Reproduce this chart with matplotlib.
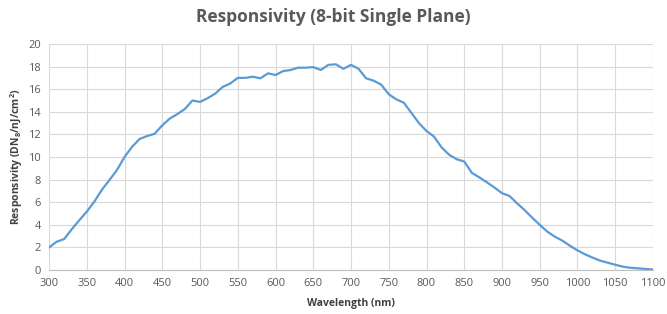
import numpy as np
import matplotlib.pyplot as plt

plt.rcParams['font.family'] = ['Open Sans', 'DejaVu Sans']
plt.rcParams['mathtext.fontset'] = 'custom'
plt.rcParams['mathtext.bf'] = 'Open Sans:bold'
plt.rcParams['mathtext.rm'] = 'Open Sans'

# wavelength (nm), every 10 nm
wavelength = np.arange(300, 1101, 10)
# responsivity
responsivity = [
    2.0, 2.5, 2.74, 3.6, 4.4, 5.16, 6.05, 7.1, 7.96, 8.85,
    10.0, 10.9, 11.6, 11.85, 12.06, 12.8, 13.4, 13.8, 14.25, 15.0,
    14.87, 15.2, 15.6, 16.2, 16.5, 17.0, 17.0, 17.1, 16.96, 17.4,
    17.25, 17.6, 17.7, 17.9, 17.9, 17.95, 17.7, 18.15, 18.2, 17.8,
    18.15, 17.8, 16.96, 16.75, 16.4, 15.55, 15.1, 14.8, 13.9, 13.0,
    12.3, 11.8, 10.85, 10.2, 9.8, 9.6, 8.6, 8.2, 7.76, 7.3,
    6.8, 6.55, 5.9, 5.3, 4.63, 4.0, 3.4, 2.95, 2.6, 2.15,
    1.74, 1.39, 1.1, 0.83, 0.65, 0.47, 0.3, 0.2, 0.15, 0.1,
    0.05,
]
x_ticks = np.arange(300, 1101, 50)
y_ticks = np.arange(0, 21, 2)

grey = '#595959'

fig = plt.figure(figsize=(6.67, 3.14), dpi=100)
ax = fig.add_axes([0.0735, 0.140, 0.9055, 0.720])

ax.plot(wavelength, responsivity, color='#5B9BD5', lw=1.6, solid_joinstyle='round')

ax.set_xlim(300, 1100)
ax.set_ylim(0, 20)
ax.set_xticks(x_ticks)
ax.set_yticks(y_ticks)
ax.grid(True, color='#d9d9d9', lw=0.8)
ax.set_axisbelow(True)
for s in ['top', 'right', 'left']:
    ax.spines[s].set_visible(False)
ax.spines['bottom'].set_color('#bfbfbf')
ax.tick_params(length=0, labelsize=8, colors=grey, pad=6)

fig.text(0.5, 0.945, 'Responsivity (8-bit Single Plane)', fontsize=12.5, fontweight='bold',
         color=grey, ha='center', va='center')
ax.set_xlabel('Wavelength (nm)', fontsize=7.5, fontweight='bold', color='#404040', labelpad=6)
ax.set_ylabel(r'Responsivity (DN$_{\mathbf{8}}$/nJ/cm$^{\mathbf{2}}$)', fontsize=7.5,
              fontweight='bold', color='#404040', labelpad=2)

fig.savefig('out.png', dpi=100)
